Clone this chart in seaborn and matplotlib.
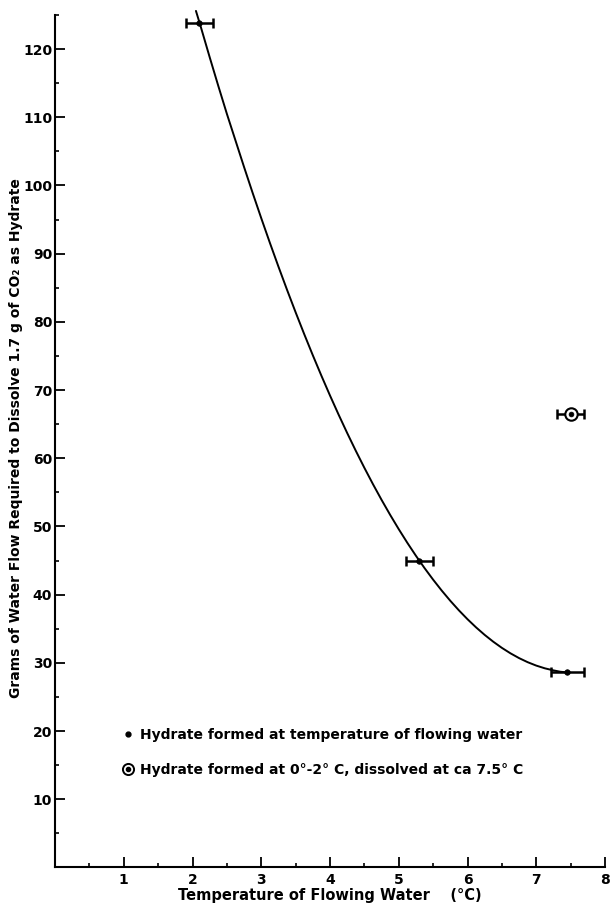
import matplotlib
matplotlib.use("Agg")
import matplotlib.pyplot as plt
import seaborn as sns
from matplotlib.lines import Line2D
from matplotlib.legend_handler import HandlerTuple
from matplotlib.ticker import FixedLocator

# ---- data ----
curve_temp = [2.05, 2.125, 2.25, 2.375, 2.5, 2.625, 2.75, 2.875, 3.0, 3.125, 3.25, 3.375,
              3.5, 3.625, 3.75, 3.875, 4.0, 4.125, 4.25, 4.375, 4.5, 4.625, 4.75, 4.875,
              5.0, 5.125, 5.25, 5.375, 5.5, 5.625, 5.75, 5.875, 6.0, 6.125, 6.25, 6.375,
              6.5, 6.625, 6.75, 6.875, 7.0, 7.125, 7.25, 7.35, 7.45]
curve_flow = [125.6, 123.1, 118.8, 114.6, 110.5, 106.6, 102.7, 98.9, 95.2, 91.6, 88.1, 84.7,
              81.4, 78.2, 75.1, 72.1, 69.2, 66.4, 63.7, 61.1, 58.6, 56.2, 53.9, 51.7,
              49.6, 47.6, 45.7, 43.9, 42.2, 40.6, 39.1, 37.7, 36.4, 35.2, 34.1, 33.1,
              32.2, 31.4, 30.7, 30.1, 29.6, 29.2, 28.9, 28.7, 28.6]

pt_temp = [2.1, 5.3, 7.45]
pt_flow = [123.9, 45.0, 28.6]
pt_err = [0.2, 0.2, 0.24]

circ_temp = [7.5]
circ_flow = [66.5]
circ_err = [0.2]

x_major = [1, 2, 3, 4, 5, 6, 7, 8]
x_minor = [0.5, 1.5, 2.5, 3.5, 4.5, 5.5, 6.5, 7.5]
y_major = [10, 20, 30, 40, 50, 60, 70, 80, 90, 100, 110, 120]
y_minor = [5, 15, 25, 35, 45, 55, 65, 75, 85, 95, 105, 115, 125]

label_dot = "Hydrate formed at temperature of flowing water"
label_circ = "Hydrate formed at 0°-2° C, dissolved at ca 7.5° C"
x_title = "Temperature of Flowing Water    (°C)"
y_title = "Grams of Water Flow Required to Dissolve 1.7 g of CO\u2082 as Hydrate"

# ---- plot ----
sns.set_theme(style="ticks")
plt.rcParams['font.family'] = ['DejaVu Sans']
plt.rcParams['font.weight'] = 'bold'
plt.rcParams['text.color'] = 'black'

fig = plt.figure(figsize=(6.1, 9.09), dpi=100)
ax = fig.add_axes([0.0902, 0.0457, 0.9016, 0.9453])

sns.lineplot(x=curve_temp, y=curve_flow, sort=False, estimator=None,
             color='black', linewidth=1.4, ax=ax)

ax.errorbar(pt_temp, pt_flow, xerr=pt_err, fmt='none', ecolor='black',
            elinewidth=1.8, capsize=3.4, capthick=1.8, zorder=3)
ax.errorbar(circ_temp, circ_flow, xerr=circ_err, fmt='none', ecolor='black',
            elinewidth=1.8, capsize=3.4, capthick=1.8, zorder=3)

sns.scatterplot(x=pt_temp, y=pt_flow, color='black', s=16, marker='o',
                edgecolor='black', linewidth=0.5, zorder=5, ax=ax)
sns.scatterplot(x=circ_temp, y=circ_flow, color='white', s=80, marker='o',
                edgecolor='black', linewidth=1.5, zorder=5, ax=ax)
sns.scatterplot(x=circ_temp, y=circ_flow, color='black', s=12, marker='o',
                edgecolor='black', linewidth=0.5, zorder=6, ax=ax)

ax.set_xlim(0, 8)
ax.set_ylim(0, 126)
ax.spines['left'].set_bounds(0, 125)
ax.spines['bottom'].set_bounds(0, 8)
for s in ['top', 'right']:
    ax.spines[s].set_visible(False)
for s in ['left', 'bottom']:
    ax.spines[s].set_linewidth(1.5)
    ax.spines[s].set_color('black')

ax.xaxis.set_major_locator(FixedLocator(x_major))
ax.xaxis.set_minor_locator(FixedLocator(x_minor))
ax.yaxis.set_major_locator(FixedLocator(y_major))
ax.yaxis.set_minor_locator(FixedLocator(y_minor))
ax.set_xticklabels([str(v) for v in x_major])
ax.set_yticklabels([str(v) for v in y_major])
ax.tick_params(which='major', direction='in', length=7, width=1.3, color='black',
               labelsize=10, labelcolor='black')
ax.tick_params(which='minor', direction='in', length=3, width=1.2, color='black')
ax.tick_params(axis='y', which='major', pad=2)
ax.tick_params(axis='x', which='major', pad=4)
for lab in ax.get_xticklabels() + ax.get_yticklabels():
    lab.set_fontweight('bold')

ax.set_xlabel(x_title, fontsize=10.5, fontweight='bold', color='black', labelpad=1)
ax.set_ylabel(y_title, fontsize=10, fontweight='bold', color='black', labelpad=0)

h_dot = Line2D([], [], linestyle='none', marker='o', color='black', markersize=3.5)
h_ring = Line2D([], [], linestyle='none', marker='o', markerfacecolor='white',
                markeredgecolor='black', markeredgewidth=1.4, markersize=8)
h_in = Line2D([], [], linestyle='none', marker='o', color='black', markersize=3)
leg = ax.legend([h_dot, (h_ring, h_in)], [label_dot, label_circ],
                handler_map={tuple: HandlerTuple(ndivide=1, pad=0)},
                loc='upper left', bbox_to_anchor=(0.12, 0.162),
                frameon=False, fontsize=10, handlelength=1.0,
                handletextpad=0.4, labelspacing=1.5, borderpad=0,
                borderaxespad=0)
for t in leg.get_texts():
    t.set_fontweight('bold')
    t.set_color('black')

fig.savefig("out.png", dpi=100, facecolor='white')
